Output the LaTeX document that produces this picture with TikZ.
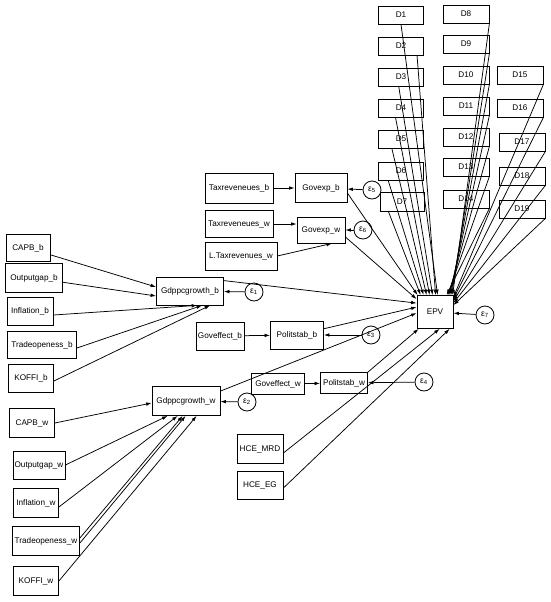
\documentclass[tikz,border=0pt]{standalone}
\usepackage{fontspec}
\setmainfont{Liberation Sans}
\usetikzlibrary{arrows.meta,calc}
\tikzset{
  box/.style={draw, line width=0.8pt, inner sep=0pt, font=\fontsize{8.2}{9}\selectfont},
  sz/.style 2 args={minimum width=#1pt, minimum height=#2pt},
  err/.style={draw, circle, line width=0.8pt, minimum size=18pt, inner sep=0pt, font=\fontsize{8.5}{9}\selectfont},
  arr/.style={line width=0.75pt, -{Latex[length=5.5pt,width=3.6pt]}},
}
\begin{document}
\begin{tikzpicture}[x=1pt,y=-1pt]
\useasboundingbox (0,0) rectangle (550,602);
% D column 1
\node[box,sz={45}{18}] (D1) at (401,15) {D1};
\node[box,sz={45}{18}] (D2) at (401,46) {D2};
\node[box,sz={45}{18}] (D3) at (401,77) {D3};
\node[box,sz={45}{18}] (D4) at (401,108) {D4};
\node[box,sz={45}{18}] (D5) at (401,139) {D5};
\node[box,sz={45}{18}] (D6) at (401,171) {D6};
\node[box,sz={44}{19}] (D7) at (402,202) {D7};
% D column 2
\node[box,sz={46}{18}] (D8) at (466,14) {D8};
\node[box,sz={46}{18}] (D9) at (466,44) {D9};
\node[box,sz={46}{18}] (D10) at (466,75) {D10};
\node[box,sz={46}{18}] (D11) at (466,106) {D11};
\node[box,sz={46}{18}] (D12) at (466,137) {D12};
\node[box,sz={46}{18}] (D13) at (466,167) {D13};
\node[box,sz={46}{18}] (D14) at (466,199) {D14};
% D column 3
\node[box,sz={46}{18}] (D15) at (520,75) {D15};
\node[box,sz={46}{18}] (D16) at (520,108) {D16};
\node[box,sz={46}{18}] (D17) at (522,142) {D17};
\node[box,sz={46}{18}] (D18) at (522,176) {D18};
\node[box,sz={46}{18}] (D19) at (522,209) {D19};
% government expenditure block
\node[box,sz={68}{30}] (TRb) at (239,188) {Taxreveneues\_b};
\node[box,sz={52}{29}] (GEb) at (321,188) {Govexp\_b};
\node[err] (e5) at (372,190) {ε\textsubscript{5}};
\node[box,sz={68}{27}] (TRw) at (239,224) {Taxreveneues\_w};
\node[box,sz={48}{26}] (GEw) at (321,230) {Govexp\_w};
\node[err] (e6) at (363,230) {ε\textsubscript{6}};
\node[box,sz={72}{28}] (LTRw) at (241,256) {L.Taxrevenues\_w};
% b inputs
\node[box,sz={44}{27}] (CAPBb) at (28,248) {CAPB\_b};
\node[box,sz={57}{29}] (OGb) at (34,278) {Outputgap\_b};
\node[box,sz={46}{28}] (INb) at (30,311) {Inflation\_b};
\node[box,sz={69}{27}] (TOb) at (42,345) {Tradeopeness\_b};
\node[box,sz={45}{28}] (KOb) at (31,378) {KOFFI\_b};
\node[box,sz={67}{28}] (GDb) at (190,291) {Gdppcgrowth\_b};
\node[err] (e1) at (254,292) {ε\textsubscript{1}};
\node[box,sz={48}{28}] (GOb) at (220,336) {Goveffect\_b};
\node[box,sz={53}{28}] (PSb) at (297,335) {Politstab\_b};
\node[err] (e3) at (371,335) {ε\textsubscript{3}};
% EPV
\node[box,sz={36}{33}] (EPV) at (435,312) {EPV};
\node[err] (e7) at (485,315) {ε\textsubscript{7}};
% w block
\node[box,sz={53}{21}] (GOw) at (278,384) {Goveffect\_w};
\node[box,sz={47}{21}] (PSw) at (344,383) {Politstab\_w};
\node[err] (e4) at (424,382) {ε\textsubscript{4}};
\node[box,sz={68}{29}] (GDw) at (186,401) {Gdppcgrowth\_w};
\node[err] (e2) at (247,402) {ε\textsubscript{2}};
\node[box,sz={45}{29}] (CAPBw) at (32,423) {CAPB\_w};
\node[box,sz={52}{28}] (OGw) at (39,465) {Outputgap\_w};
\node[box,sz={45}{29}] (INw) at (36,503) {Inflation\_w};
\node[box,sz={67}{29}] (TOw) at (46,541) {Tradeopeness\_w};
\node[box,sz={45}{29}] (KOw) at (36,581) {KOFFI\_w};
\node[box,sz={46}{29}] (HM) at (260,449) {HCE\_MRD};
\node[box,sz={46}{28}] (HE) at (260,485) {HCE\_EG};

% start points on the D boxes of column 1
\coordinate (sD1) at ($(D1.south west)!0.5!(D1.south east)$);
\coordinate (sD2) at ($(D2.south west)!0.85!(D2.south east)$);
\coordinate (sD3) at ($(D3.south west)!0.45!(D3.south east)$);
\coordinate (sD4) at ($(D4.south west)!0.38!(D4.south east)$);
\coordinate (sD5) at ($(D5.south west)!0.3!(D5.south east)$);
\coordinate (sD6) at ($(D6.south west)!0.22!(D6.south east)$);
\coordinate (sD7) at ($(D7.south west)!0.2!(D7.south east)$);
% target points on EPV
\coordinate (tD1) at ($(EPV.north west)+(21,0)$);
\coordinate (tD2) at ($(EPV.north west)+(19,0)$);
\coordinate (tD3) at ($(EPV.north west)+(16,0)$);
\coordinate (tD4) at ($(EPV.north west)+(13,0)$);
\coordinate (tD5) at ($(EPV.north west)+(10,0)$);
\coordinate (tD6) at ($(EPV.north west)+(7,0)$);
\coordinate (tD7) at ($(EPV.north west)+(4,0)$);
\coordinate (tGEb) at ($(EPV.north west)+(1,0)$);
\coordinate (tD8) at ($(EPV.north west)+(36,0)$);
\coordinate (tD9) at ($(EPV.north west)+(35,0)$);
\coordinate (tD10) at ($(EPV.north west)+(34,0)$);
\coordinate (tD11) at ($(EPV.north west)+(33,0)$);
\coordinate (tD12) at ($(EPV.north west)+(32,0)$);
\coordinate (tD13) at ($(EPV.north west)+(31,0)$);
\coordinate (tD14) at ($(EPV.north west)+(30,0)$);
\coordinate (tD15) at ($(EPV.north east)+(0,2)$);
\coordinate (tD16) at ($(EPV.north east)+(0,4)$);
\coordinate (tD17) at ($(EPV.north east)+(0,6)$);
\coordinate (tD18) at ($(EPV.north east)+(0,8)$);
\coordinate (tD19) at ($(EPV.north east)+(0,10)$);
\coordinate (tGEw) at ($(EPV.north west)+(0,4)$);
\coordinate (tGDb) at ($(EPV.north west)+(0,8)$);
\coordinate (tPSb) at ($(EPV.north west)+(0,12)$);
\coordinate (tGDw) at ($(EPV.north west)+(0,18)$);
\coordinate (tPSw) at ($(EPV.south west)+(2,0)$);
\coordinate (tHM) at ($(EPV.south west)+(23,0)$);
\coordinate (tHE) at ($(EPV.south west)+(33,0)$);

% D arrows
\foreach \i in {1,...,7} \draw[arr] (sD\i) -- (tD\i);
\foreach \i in {8,...,19} \draw[arr] (D\i.south east) -- (tD\i);

% other arrows into EPV
\draw[arr] ($(GEb.east)+(0,5)$) -- (tGEb);
\draw[arr] ($(GEw.east)+(0,7)$) -- (tGEw);
\draw[arr] ($(GDb.north east)+(0,4)$) -- (tGDb);
\draw[arr] (PSb) -- (tPSb);
\draw[arr] ($(GDw.north east)+(0,5)$) -- (tGDw);
\draw[arr] (PSw.north east) -- (tPSw);
\draw[arr] ($(HM.east)+(0,4)$) -- (tHM);
\draw[arr] ($(HE.east)+(0,3)$) -- (tHE);
\draw[arr] (e7) -- (EPV);

% government expenditure
\draw[arr] (TRb) -- (GEb);
\draw[arr] (e5) -- (GEb);
\draw[arr] (TRw) -- (TRw -| GEw.west);
\draw[arr] (LTRw.east) -- ($(GEw.south)+(11,0)$);
\draw[arr] (e6) -- (GEw);

% b growth
\draw[arr] (CAPBb) -- ($(GDb.west)+(0,-4)$);
\draw[arr] (OGb) -- ($(GDb.west)+(0,5)$);
\draw[arr] ($(INb.east)+(0,4)$) -- ($(GDb.south west)+(41,0)$);
\draw[arr] ($(TOb.east)+(0,3)$) -- ($(GDb.south west)+(46,0)$);
\draw[arr] ($(KOb.east)+(0,3)$) -- ($(GDb.south west)+(54,0)$);
\draw[arr] (e1) -- (GDb);

% politstab
\draw[arr] (GOb) -- (PSb);
\draw[arr] (e3) -- (PSb);
\draw[arr] (GOw) -- (PSw);
\draw[arr] (e4) -- (PSw);

% w growth
\draw[arr] (CAPBw.east) -- ($(GDw.west)+(0,2)$);
\draw[arr] (OGw.east) -- ($(GDw.south west)+(16,0)$);
\draw[arr] ($(INw.east)+(0,4)$) -- ($(GDw.south west)+(26,0)$);
\draw[arr] ($(TOw.east)+(0,-3)$) -- ($(GDw.south west)+(31,0)$);
\draw[arr] ($(TOw.east)+(0,2)$) -- ($(GDw.south west)+(34,0)$);
\draw[arr] (KOw.east) -- ($(GDw.south west)+(45,0)$);
\draw[arr] (e2) -- (GDw);
\end{tikzpicture}
\end{document}
